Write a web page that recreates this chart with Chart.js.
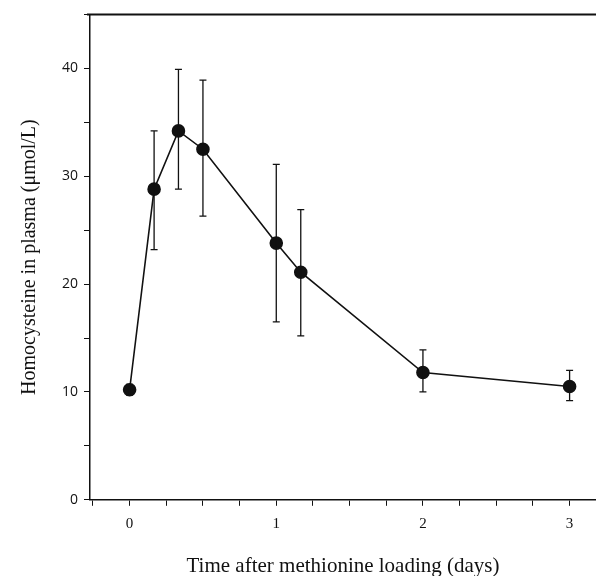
<!DOCTYPE html>
<html>
<head>
<meta charset="utf-8">
<script src="https://cdn.jsdelivr.net/npm/chart.js@4"></script>
<style>
  html, body { margin: 0; padding: 0; background: #fff; }
  #wrap { width: 596px; height: 576px; }
</style>
</head>
<body>
<div id="wrap"><canvas id="chart"></canvas></div>
<script>
// time after loading (days), mean and error bar ends (µmol/L)
const times = [0, 0.167, 0.333, 0.5, 1, 1.167, 2, 3];
const means = [10.2, 28.8, 34.2, 32.5, 23.8, 21.1, 11.8, 10.5];
const upper = [10.7, 34.2, 39.9, 38.9, 31.1, 26.9, 13.9, 12.0];
const lower = [9.7, 23.2, 28.8, 26.3, 16.5, 15.2, 10.0, 9.2];

const serif = "'Liberation Serif', 'DejaVu Serif', serif";

// error bars + the top frame line
const errorBars = {
    id: 'errorBars',
    afterDatasetsDraw(chart) {
        const ctx = chart.ctx;
        const xs = chart.scales.x, ys = chart.scales.y;
        const area = chart.chartArea;
        ctx.save();
        ctx.strokeStyle = '#111';
        ctx.lineWidth = 1.3;
        times.forEach((t, i) => {
            const px = xs.getPixelForValue(t);
            const top = ys.getPixelForValue(upper[i]);
            const bot = ys.getPixelForValue(lower[i]);
            ctx.beginPath();
            ctx.moveTo(px, top); ctx.lineTo(px, bot);
            ctx.moveTo(px - 3.5, top); ctx.lineTo(px + 3.5, top);
            ctx.moveTo(px - 3.5, bot); ctx.lineTo(px + 3.5, bot);
            ctx.stroke();
        });
        ctx.lineWidth = 2;
        ctx.beginPath();
        ctx.moveTo(area.left - 3, area.top);
        ctx.lineTo(area.right, area.top);
        ctx.stroke();
        ctx.restore();
    }
};

new Chart(document.getElementById('chart'), {
    type: 'line',
    data: {
        datasets: [{
            data: times.map((t, i) => ({ x: t, y: means[i] })),
            borderColor: '#111',
            backgroundColor: '#111',
            borderWidth: 1.6,
            pointRadius: 6,
            pointHoverRadius: 6,
            tension: 0,
        }],
    },
    options: {
        responsive: true,
        maintainAspectRatio: false,
        animation: false,
        layout: { autoPadding: false, padding: { top: 14, right: 0, bottom: -3, left: 18 } },
        plugins: {
            legend: { display: false },
            tooltip: { enabled: false },
        },
        scales: {
            x: {
                type: 'linear',
                min: -0.27,
                max: 3.18,
                border: { color: '#111', width: 1.5 },
                grid: { drawOnChartArea: false, tickLength: 6, tickColor: '#111' },
                ticks: {
                    stepSize: 0.25,
                    includeBounds: false,
                    autoSkip: false,
                    maxRotation: 0,
                    color: '#111',
                    font: { family: serif, size: 15 },
                    padding: 9,
                    callback: v => Number.isInteger(v) ? String(v) : '',
                },
                title: {
                    display: true,
                    text: 'Time after methionine loading (days)',
                    color: '#111',
                    font: { family: serif, size: 21 },
                    padding: { top: 12, bottom: 0 },
                },
            },
            y: {
                min: 0,
                max: 45,
                border: { color: '#111', width: 1.5 },
                grid: { drawOnChartArea: false, tickLength: 6, tickColor: '#111' },
                ticks: {
                    stepSize: 5,
                    includeBounds: false,
                    autoSkip: false,
                    color: '#111',
                    font: { family: "'Open Sans', sans-serif", size: 14 },
                    padding: 6,
                    callback: v => v % 10 === 0 ? String(v) : '',
                },
                title: {
                    display: true,
                    text: 'Homocysteine in plasma (μmol/L)',
                    color: '#111',
                    font: { family: serif, size: 20 },
                    padding: { top: 0, bottom: 14 },
                },
            },
        },
    },
    plugins: [errorBars],
});
</script>
</body>
</html>
